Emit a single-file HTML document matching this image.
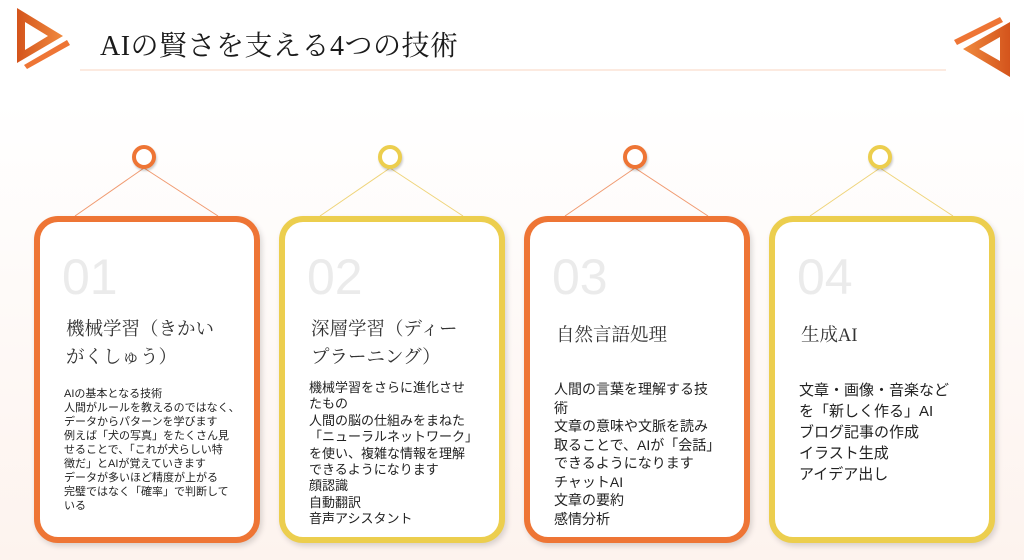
<!DOCTYPE html>
<html><head><meta charset="utf-8"><style>
*{margin:0;padding:0;box-sizing:border-box}
body{width:1024px;height:560px;overflow:hidden;position:relative;background:linear-gradient(#fff 0%,#fff 18%,#fdf3ee 100%);font-family:"Liberation Sans","Noto Sans CJK JP",sans-serif}
.a{position:absolute}
.title{left:100px;top:24px;font-family:"Liberation Serif","Noto Serif CJK SC",serif;font-size:28px;color:#1a1a1a;letter-spacing:0.5px;white-space:nowrap}
.card{position:absolute;top:216px;width:226px;height:327px;border:6px solid;border-radius:24px;background:#fff;box-shadow:2px 3px 6px rgba(0,0,0,.15)}
.o{border-color:#ee7535}.y{border-color:#ecce4e}
.num{position:absolute;left:22px;top:26px;font-size:50px;color:#ebebeb;font-family:"Liberation Sans",sans-serif;letter-spacing:0px}
.h{position:absolute;left:26px;top:94px;font-family:"Liberation Serif","Noto Serif CJK SC",serif;font-size:18.5px;line-height:28px;color:#333;white-space:nowrap}
.b{position:absolute;left:24px;color:#222;white-space:nowrap}
.ring{position:absolute;width:24px;height:24px;border-radius:50%;border:4px solid;background:#fff;box-shadow:1px 2px 2px rgba(0,0,0,.2)}
</style></head><body>
<svg class="a" style="left:0;top:0" width="1024" height="560">
<defs><linearGradient id="g" x1="0" x2="1"><stop offset="0" stop-color="#d4541c"/><stop offset="1" stop-color="#f08a3e"/></linearGradient>
<linearGradient id="g2" x1="1" x2="0"><stop offset="0" stop-color="#d4541c"/><stop offset="1" stop-color="#f08a3e"/></linearGradient></defs>
<path d="M17 8 L63 36 L17 63 Z M25 22 L25 50 L48 36 Z" fill="url(#g)" fill-rule="evenodd"/>
<path d="M24 65 L67 40 L70 45 L27 69 Z" fill="#ee7535"/>
<path d="M1010 22 L1010 77 L963 49 Z M1000 37 L1000 61 L979 49 Z" fill="url(#g2)" fill-rule="evenodd"/>
<path d="M954 40 L1000 17 L1003 22 L957 45 Z" fill="#ee7535"/>
<line x1="80" y1="70" x2="946" y2="70" stroke="#f8d4c2" stroke-width="1"/>
<g stroke-width="1">
<line x1="144" y1="168" x2="75" y2="216" stroke="#f09a70"/><line x1="144" y1="168" x2="218" y2="216" stroke="#f09a70"/>
<line x1="390" y1="168" x2="320" y2="216" stroke="#efd47a"/><line x1="390" y1="168" x2="463" y2="216" stroke="#efd47a"/>
<line x1="635" y1="168" x2="565" y2="216" stroke="#f09a70"/><line x1="635" y1="168" x2="708" y2="216" stroke="#f09a70"/>
<line x1="880" y1="168" x2="810" y2="216" stroke="#efd47a"/><line x1="880" y1="168" x2="953" y2="216" stroke="#efd47a"/>
</g></svg>
<div class="a title">AIの賢さを支える4つの技術</div>
<div class="ring" style="left:132px;top:145px;border-color:#ee7535"></div>
<div class="ring" style="left:378px;top:145px;border-color:#ecce4e"></div>
<div class="ring" style="left:623px;top:145px;border-color:#ee7535"></div>
<div class="ring" style="left:868px;top:145px;border-color:#ecce4e"></div>

<div class="card o" style="left:34px">
<div class="num">01</div>
<div class="h">機械学習（きかい<br>がくしゅう）</div>
<div class="b" style="top:165px;font-size:11px;line-height:14px">AIの基本となる技術<br>人間がルールを教えるのではなく、<br>データからパターンを学びます<br>例えば「犬の写真」をたくさん見<br>せることで、「これが犬らしい特<br>徴だ」とAIが覚えていきます<br>データが多いほど精度が上がる<br>完璧ではなく「確率」で判断して<br>いる</div>
</div>
<div class="card y" style="left:279px">
<div class="num">02</div>
<div class="h">深層学習（ディー<br>プラーニング）</div>
<div class="b" style="top:158px;font-size:13px;line-height:16.4px">機械学習をさらに進化させ<br>たもの<br>人間の脳の仕組みをまねた<br>「ニューラルネットワーク」<br>を使い、複雑な情報を理解<br>できるようになります<br>顔認識<br>自動翻訳<br>音声アシスタント</div>
</div>
<div class="card o" style="left:524px">
<div class="num">03</div>
<div class="h" style="top:100px">自然言語処理</div>
<div class="b" style="top:158px;font-size:14px;line-height:18.5px">人間の言葉を理解する技<br>術<br>文章の意味や文脈を読み<br>取ることで、AIが「会話」<br>できるようになります<br>チャットAI<br>文章の要約<br>感情分析</div>
</div>
<div class="card y" style="left:769px">
<div class="num">04</div>
<div class="h" style="top:100px">生成AI</div>
<div class="b" style="top:158px;font-size:15px;line-height:21px">文章・画像・音楽など<br>を「新しく作る」AI<br>ブログ記事の作成<br>イラスト生成<br>アイデア出し</div>
</div>
</body></html>
